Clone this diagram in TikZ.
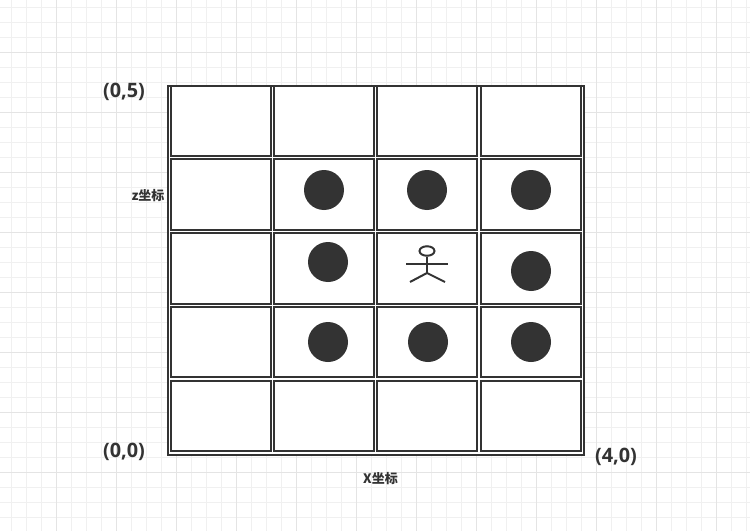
\documentclass[tikz,border=0pt]{standalone}
\usepackage{fontspec}
\setmainfont{Open Sans}
\newfontfamily\cjk{Noto Sans CJK SC}
\usepackage{xcolor}
\usetikzlibrary{shapes.geometric}
\definecolor{inkgrey}{HTML}{333333}
\definecolor{minorgrey}{HTML}{F0F0F0}
\definecolor{majorgrey}{HTML}{E4E4E4}
\newcommand{\cellw}{2.01cm}
\newcommand{\cellh}{1.406cm}

\begin{document}
\begin{tikzpicture}[x=.02cm,y=-.02cm,
	cellbox/.style={draw=inkgrey,line width=.04cm,fill=white,inner sep=0,minimum width=\cellw,minimum height=\cellh},
	stone/.style={circle,fill=inkgrey,inner sep=0,minimum size=.8cm},
	corner/.style={text=inkgrey,inner sep=0,font=\bfseries\fontsize{11.3}{13}\selectfont},
	axis/.style={text=inkgrey,inner sep=0,font=\cjk\bfseries\fontsize{7.4}{9}\selectfont},
	limb/.style={draw=inkgrey,line width=.04cm}]
	
	\useasboundingbox (0,0) rectangle (750,531);
	\fill[white] (0,0) rectangle (750,531);
	%background grid
	\foreach \gx in {11.7,26.7,...,750}{\draw[minorgrey,line width=.02cm] (\gx,0) -- (\gx,531);}
	\foreach \gy in {7,22,...,531}{\draw[minorgrey,line width=.02cm] (0,\gy) -- (750,\gy);}
	\foreach \gx in {56.7,116.7,...,750}{\draw[majorgrey,line width=.02cm] (\gx,0) -- (\gx,531);}
	\foreach \gy in {52,112,...,531}{\draw[majorgrey,line width=.02cm] (0,\gy) -- (750,\gy);}
	
	\node[draw=inkgrey,line width=.04cm,fill=white,inner sep=0,minimum width=8.32cm,minimum height=7.39cm] (board) at (376,270.5){};
	%cells
	\foreach \col/\cx in {0/221,1/324,2/427,3/531}{
		\foreach \row/\cy in {4/120.9,3/194.6,2/268.4,1/342.1,0/415.9}{
			\node[cellbox] (c\col\row) at (\cx,\cy){};
		}
	}
	%stones
	\node[stone] (s1) at (324,190){};
	\node[stone] (s2) at (427,190){};
	\node[stone] (s3) at (531,190){};
	\node[stone] (s4) at (328,262){};
	\node[stone] (s5) at (531,271){};
	\node[stone] (s6) at (328,342){};
	\node[stone] (s7) at (428,342){};
	\node[stone] (s8) at (531,342){};
	%stick figure
	\node[draw=inkgrey,line width=.04cm,ellipse,inner sep=0,minimum width=.3cm,minimum height=.19cm] (head) at (427,251){};
	\coordinate (hip) at (427,273);
	\coordinate (armL) at (406,264);
	\coordinate (armR) at (448,264);
	\coordinate (footL) at (410,282);
	\coordinate (footR) at (445,282);
	\draw[limb] (head) -- (hip);
	\draw[limb] (armL) -- (armR);
	\draw[limb] (footL) -- (hip) -- (footR);
	%labels
	\node[corner] (origin) at (124,92){(0,5)};
	\node[corner] (bottom) at (124,452){(0,0)};
	\node[corner] (right) at (616,456.5){(4,0)};
	\node[axis] (zlabel) at (148,196){z坐标};
	\node[axis] (xlabel) at (380.5,478.5){X坐标};
	
\end{tikzpicture}
\end{document}
